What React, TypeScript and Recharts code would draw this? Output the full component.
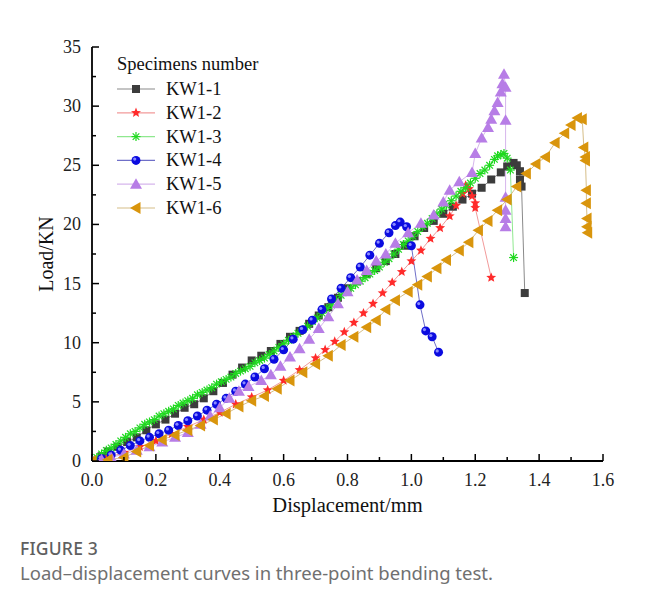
import { LineChart, Line, XAxis, YAxis, Legend } from 'recharts';

// [displacement mm, load kN]
const kw11 = [
  [0, 0], [0.03, 0.4], [0.05, 0.8], [0.08, 1.2], [0.11, 1.6], [0.14, 2.0], [0.17, 2.6], [0.2, 3.1],
  [0.23, 3.5], [0.26, 4.0], [0.29, 4.5], [0.32, 4.8], [0.35, 5.3], [0.38, 5.9], [0.41, 6.6], [0.44, 7.3],
  [0.47, 7.9], [0.5, 8.5], [0.53, 8.9], [0.56, 9.3], [0.59, 9.9], [0.62, 10.5], [0.65, 11.0], [0.68, 11.6],
  [0.71, 12.3], [0.74, 13.0], [0.77, 13.8], [0.8, 14.6], [0.83, 15.2], [0.86, 15.8], [0.89, 16.3], [0.92, 16.9],
  [0.95, 17.5], [0.98, 18.2], [1.01, 19.0], [1.04, 19.7], [1.07, 20.3], [1.1, 20.9], [1.13, 21.5], [1.16, 22.1],
  [1.19, 22.6], [1.22, 23.1], [1.25, 23.8], [1.28, 24.4], [1.3, 24.9], [1.32, 25.2], [1.33, 25.0], [1.34, 24.5],
  [1.34, 23.8], [1.345, 23.2], [1.355, 14.2],
];
const kw12 = [
  [0, 0], [0.05, 0.3], [0.1, 0.7], [0.15, 1.2], [0.2, 1.7], [0.25, 2.3], [0.3, 2.9], [0.35, 3.5], [0.4, 4.1],
  [0.45, 4.8], [0.5, 5.4], [0.55, 6.0], [0.6, 6.8], [0.65, 7.7], [0.7, 8.7], [0.73, 9.4], [0.76, 10.1],
  [0.79, 10.9], [0.82, 11.7], [0.85, 12.5], [0.88, 13.3], [0.91, 14.2], [0.94, 15.1], [0.97, 16.0], [1.0, 16.9],
  [1.03, 17.8], [1.06, 18.8], [1.09, 19.7], [1.12, 20.7], [1.14, 21.6], [1.16, 22.6], [1.17, 23.3], [1.18, 23.0],
  [1.19, 22.4], [1.2, 21.8], [1.2, 21.4], [1.25, 15.5],
];
const kw13 = [
  [0, 0], [0.015, 0.3], [0.03, 0.6], [0.045, 0.9], [0.06, 1.1], [0.075, 1.4], [0.09, 1.7], [0.105, 2.0],
  [0.12, 2.3], [0.135, 2.5], [0.15, 2.8], [0.165, 3.1], [0.18, 3.3], [0.195, 3.5], [0.21, 3.8], [0.225, 4.0],
  [0.24, 4.2], [0.255, 4.4], [0.27, 4.7], [0.285, 4.9], [0.3, 5.1], [0.315, 5.3], [0.33, 5.6], [0.345, 5.8],
  [0.36, 6.0], [0.375, 6.2], [0.39, 6.5], [0.405, 6.7], [0.42, 6.9], [0.435, 7.1], [0.45, 7.4], [0.465, 7.6],
  [0.48, 7.8], [0.495, 8.0], [0.51, 8.3], [0.525, 8.5], [0.54, 8.7], [0.555, 9.0], [0.57, 9.3], [0.585, 9.6],
  [0.6, 9.9], [0.615, 10.2], [0.63, 10.5], [0.645, 10.8], [0.66, 11.1], [0.675, 11.4], [0.69, 11.8],
  [0.705, 12.1], [0.72, 12.5], [0.735, 12.9], [0.75, 13.2], [0.765, 13.6], [0.78, 14.0], [0.795, 14.3],
  [0.81, 14.6], [0.825, 14.9], [0.84, 15.2], [0.855, 15.5], [0.87, 15.8], [0.885, 16.1], [0.9, 16.4],
  [0.915, 16.8], [0.93, 17.1], [0.945, 17.5], [0.96, 17.9], [0.975, 18.3], [0.99, 18.6], [1.005, 19.0],
  [1.02, 19.4], [1.035, 19.8], [1.05, 20.1], [1.065, 20.5], [1.08, 20.9], [1.095, 21.3], [1.11, 21.6],
  [1.125, 22.0], [1.14, 22.4], [1.155, 22.8], [1.17, 23.1], [1.185, 23.5], [1.2, 23.9], [1.215, 24.3],
  [1.23, 24.6], [1.245, 25.0], [1.26, 25.5], [1.27, 25.8], [1.28, 25.9], [1.29, 26.0], [1.3, 25.6],
  [1.31, 24.6], [1.32, 17.2],
];
const kw14 = [
  [0, 0], [0.03, 0.2], [0.06, 0.5], [0.09, 0.9], [0.12, 1.3], [0.15, 1.7], [0.18, 2.0], [0.21, 2.3], [0.24, 2.6],
  [0.27, 3.0], [0.3, 3.4], [0.33, 3.8], [0.36, 4.3], [0.39, 4.8], [0.42, 5.3], [0.45, 5.9], [0.48, 6.5],
  [0.51, 7.1], [0.54, 7.8], [0.57, 8.6], [0.6, 9.4], [0.63, 10.3], [0.66, 11.1], [0.69, 11.9], [0.72, 12.8],
  [0.75, 13.7], [0.78, 14.6], [0.81, 15.5], [0.84, 16.4], [0.87, 17.4], [0.9, 18.4], [0.93, 19.3], [0.95, 19.9],
  [0.965, 20.2], [0.985, 19.8], [1.0, 18.2], [1.027, 13.2], [1.045, 11.0], [1.065, 10.5], [1.085, 9.2],
];
const kw15 = [
  [0, 0], [0.03, 0.1], [0.06, 0.3], [0.1, 0.6], [0.14, 0.9], [0.18, 1.2], [0.22, 1.6], [0.26, 2.0], [0.3, 2.4],
  [0.34, 3.1], [0.37, 3.8], [0.4, 4.5], [0.43, 5.3], [0.46, 5.9], [0.49, 6.3], [0.53, 6.8], [0.56, 7.3],
  [0.59, 8.0], [0.62, 8.8], [0.65, 9.5], [0.68, 10.3], [0.71, 11.2], [0.74, 12.2], [0.77, 13.3], [0.8, 14.3],
  [0.83, 15.3], [0.86, 16.1], [0.89, 16.9], [0.92, 17.5], [0.95, 18.4], [0.99, 19.3], [1.03, 20.1], [1.07, 20.8],
  [1.1, 21.9], [1.12, 22.9], [1.15, 23.6], [1.19, 24.4], [1.2, 26.0], [1.22, 27.3], [1.24, 28.2], [1.25, 28.9],
  [1.26, 29.6], [1.27, 30.3], [1.28, 31.2], [1.285, 31.9], [1.29, 32.7], [1.295, 31.6], [1.295, 28.8],
  [1.295, 22.3], [1.295, 21.2], [1.295, 20.5], [1.295, 19.8],
];
const kw16 = [
  [0, 0], [0.05, 0.1], [0.1, 0.3], [0.14, 0.8], [0.18, 1.3], [0.22, 1.8], [0.26, 2.2], [0.3, 2.6], [0.34, 3.0],
  [0.38, 3.5], [0.42, 4.0], [0.46, 4.6], [0.5, 5.1], [0.54, 5.5], [0.58, 6.1], [0.62, 6.8], [0.66, 7.5],
  [0.7, 8.2], [0.74, 8.9], [0.78, 9.8], [0.82, 10.5], [0.86, 11.3], [0.89, 11.9], [0.92, 12.8], [0.95, 13.6],
  [0.99, 14.3], [1.02, 14.9], [1.05, 15.6], [1.08, 16.3], [1.11, 17.0], [1.15, 17.8], [1.18, 18.5], [1.21, 19.5],
  [1.24, 20.3], [1.27, 21.2], [1.3, 22.1], [1.33, 23.2], [1.36, 24.3], [1.39, 25.1], [1.42, 25.7], [1.45, 26.9],
  [1.48, 27.7], [1.5, 28.4], [1.52, 29.0], [1.535, 28.9], [1.54, 26.5], [1.545, 25.7], [1.545, 25.4],
  [1.548, 22.9], [1.548, 21.8], [1.55, 20.5], [1.55, 19.8], [1.552, 19.3],
];

const seriesNames = ['KW1-1', 'KW1-2', 'KW1-3', 'KW1-4', 'KW1-5', 'KW1-6'];
const xTicks = [0, 0.1, 0.2, 0.3, 0.4, 0.5, 0.6, 0.7, 0.8, 0.9, 1.0, 1.1, 1.2, 1.3, 1.4, 1.5, 1.6];
const xLabels = ['0.0', '0.2', '0.4', '0.6', '0.8', '1.0', '1.2', '1.4', '1.6'];
const yTicks = [0, 2.5, 5, 7.5, 10, 12.5, 15, 17.5, 20, 22.5, 25, 27.5, 30, 32.5, 35];
const yLabels = ['0', '5', '10', '15', '20', '25', '30', '35'];

const toPts = (arr: number[][]) => arr.map(([x, y]) => ({ x, y }));

const serif = '"Liberation Serif", "Times New Roman", serif';

const Marker = ({ kind, cx, cy }: { kind: string; cx: number; cy: number }) => {
  switch (kind) {
    case 'square':
      return <rect x={cx - 4} y={cy - 4} width={8} height={8} fill="#3c3c3c" />;
    case 'star': {
      const pts: string[] = [];
      for (let i = 0; i < 10; i++) {
        const r = i % 2 === 0 ? 5.2 : 2.3;
        const a = -Math.PI / 2 + (i * Math.PI) / 5;
        pts.push(`${cx + r * Math.cos(a)},${cy + r * Math.sin(a)}`);
      }
      return <polygon points={pts.join(' ')} fill="#ff2b2b" />;
    }
    case 'asterisk':
      return (
        <g stroke="#1fd91f" strokeWidth={1.2}>
          <line x1={cx - 4.5} y1={cy} x2={cx + 4.5} y2={cy} />
          <line x1={cx} y1={cy - 4.5} x2={cx} y2={cy + 4.5} />
          <line x1={cx - 3.3} y1={cy - 3.3} x2={cx + 3.3} y2={cy + 3.3} />
          <line x1={cx - 3.3} y1={cy + 3.3} x2={cx + 3.3} y2={cy - 3.3} />
        </g>
      );
    case 'ball':
      return (
        <g>
          <circle cx={cx} cy={cy} r={4.5} fill="#0b0be0" />
          <circle cx={cx - 1.3} cy={cy - 1.3} r={1.6} fill="#8a8aff" />
        </g>
      );
    case 'up':
      return <polygon points={`${cx},${cy - 6} ${cx + 6},${cy + 4.5} ${cx - 6},${cy + 4.5}`} fill="#b77de6" />;
    default:
      return <polygon points={`${cx - 6},${cy} ${cx + 4.5},${cy - 6} ${cx + 4.5},${cy + 6}`} fill="#d9950c" />;
  }
};

const series = [
  { name: seriesNames[0], data: toPts(kw11), kind: 'square', line: '#8a8a8a' },
  { name: seriesNames[1], data: toPts(kw12), kind: 'star', line: '#f29a9a' },
  { name: seriesNames[2], data: toPts(kw13), kind: 'asterisk', line: '#8fe88f' },
  { name: seriesNames[3], data: toPts(kw14), kind: 'ball', line: '#6f6fc8' },
  { name: seriesNames[4], data: toPts(kw15), kind: 'up', line: '#d6b6ec' },
  { name: seriesNames[5], data: toPts(kw16), kind: 'left', line: '#d6be88' },
];

const XTick = (props: any) => {
  const { x, y, payload } = props;
  const label = xLabels.find((l) => Math.abs(parseFloat(l) - payload.value) < 1e-6);
  return (
    <g>
      <line x1={x} y1={y} x2={x} y2={y - (label ? 7 : 4)} stroke="#000" strokeWidth={1.5} />
      {label && (
        <text x={x} y={y + 25} textAnchor="middle" fontFamily={serif} fontSize={18} fill="#222">
          {label}
        </text>
      )}
    </g>
  );
};

const YTick = (props: any) => {
  const { x, y, payload } = props;
  const label = yLabels.find((l) => Math.abs(parseFloat(l) - payload.value) < 1e-6);
  return (
    <g>
      <line x1={x} y1={y} x2={x + (label ? 7 : 4)} y2={y} stroke="#000" strokeWidth={1.5} />
      {label && (
        <text x={x - 11} y={y + 6} textAnchor="end" fontFamily={serif} fontSize={18} fill="#222">
          {label}
        </text>
      )}
    </g>
  );
};

const LegendBox = () => (
  <svg width={165} height={172} style={{ display: 'block' }}>
    <rect x={0} y={0} width={165} height={172} fill="#fff" />
    <text x={7} y={22} fontFamily={serif} fontSize={18.5} fill="#111">
      Specimens number
    </text>
    {series.map((s, i) => {
      const cy = 41 + i * 23.8;
      return (
        <g key={s.name}>
          <line x1={7} y1={cy} x2={45} y2={cy} stroke={s.line} strokeWidth={1.2} />
          <Marker kind={s.kind} cx={26} cy={cy} />
          <text x={56} y={cy + 6} fontFamily={serif} fontSize={18.5} fill="#111">
            {s.name}
          </text>
        </g>
      );
    })}
  </svg>
);

export default function App() {
  return (
    <div style={{ margin: -8, width: 646, height: 613, position: 'relative', background: '#fff', overflow: 'hidden' }}>
      <div
        style={{
          position: 'absolute',
          left: 6,
          top: 7,
          width: 700,
          height: 700,
          borderLeft: '1px solid #d6d6d6',
          borderTop: '1px solid #d6d6d6',
        }}
      />
      <div style={{ position: 'absolute', left: 0, top: 0 }}>
        <LineChart width={646} height={530} margin={{ top: 47, right: 43, bottom: 0, left: 0 }}>
          <XAxis
            type="number"
            dataKey="x"
            domain={[0, 1.6]}
            ticks={xTicks}
            interval={0}
            height={69}
            tickSize={0}
            tickMargin={0}
            tickLine={false}
            tick={<XTick />}
            axisLine={{ stroke: '#000', strokeWidth: 1.8 }}
            allowDataOverflow
            label={{
              content: (p: any) => (
                <text
                  x={p.viewBox.x + p.viewBox.width / 2}
                  y={p.viewBox.y + 51}
                  textAnchor="middle"
                  fontFamily={serif}
                  fontSize={20.5}
                  fill="#111"
                >
                  Displacement/mm
                </text>
              ),
            }}
          />
          <YAxis
            type="number"
            domain={[0, 35]}
            ticks={yTicks}
            interval={0}
            width={92}
            tickSize={0}
            tickMargin={0}
            tickLine={false}
            tick={<YTick />}
            axisLine={{ stroke: '#000', strokeWidth: 1.8 }}
            allowDataOverflow
            label={{
              content: (p: any) => {
                const cy = p.viewBox.y + p.viewBox.height / 2;
                return (
                  <text
                    x={53}
                    y={cy}
                    transform={`rotate(-90 53 ${cy})`}
                    textAnchor="middle"
                    fontFamily={serif}
                    fontSize={20}
                    fill="#111"
                  >
                    Load/KN
                  </text>
                );
              },
            }}
          />
          <Legend
            layout="horizontal"
            verticalAlign="middle"
            align="center"
            content={() => <LegendBox />}
            wrapperStyle={{ left: 110, top: 48, width: 165, height: 172 }}
          />
          {series.map((s) => (
            <Line
              key={s.name}
              name={s.name}
              data={s.data}
              dataKey="y"
              type="linear"
              stroke={s.line}
              strokeWidth={1}
              isAnimationActive={false}
              dot={(p: any) => <Marker key={`${s.name}-${p.index}`} kind={s.kind} cx={p.cx} cy={p.cy} />}
              activeDot={false}
            />
          ))}
        </LineChart>
      </div>
      <div
        style={{
          position: 'absolute',
          left: 20,
          top: 536,
          fontFamily: '"Noto Sans", "Open Sans", sans-serif',
          fontSize: 17.5,
          fontWeight: 500,
          color: '#5f5f5f',
          letterSpacing: 0.2,
        }}
      >
        FIGURE 3
      </div>
      <div
        style={{
          position: 'absolute',
          left: 20,
          top: 560,
          fontFamily: '"Noto Sans", "Open Sans", sans-serif',
          fontSize: 18.5,
          color: '#707070',
        }}
      >
        Load–displacement curves in three-point bending test.
      </div>
    </div>
  );
}
